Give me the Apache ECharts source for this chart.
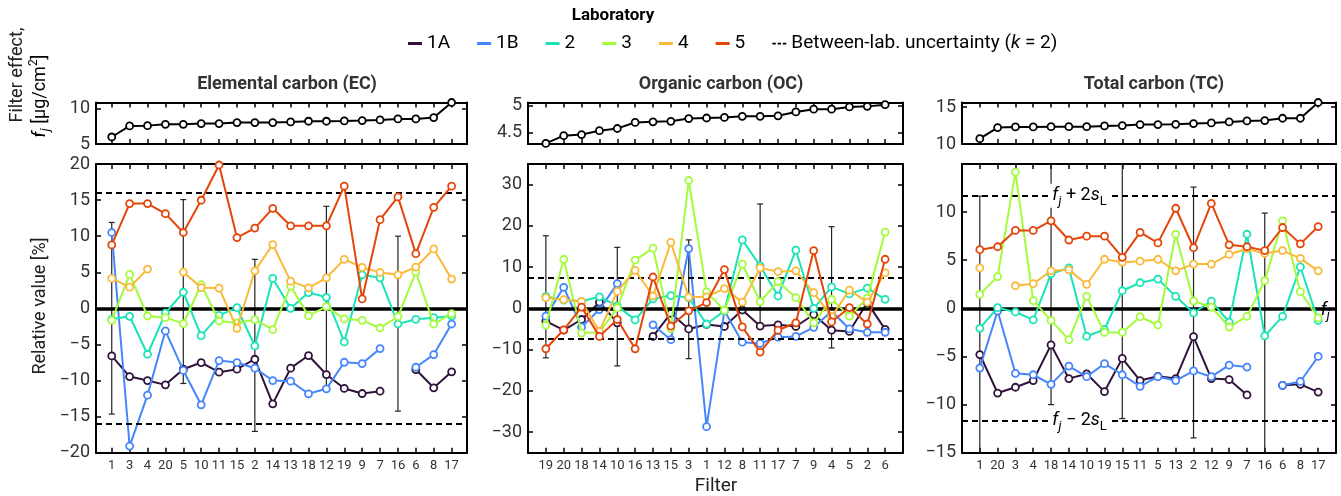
<!DOCTYPE html>
<html>
<head>
<meta charset="utf-8">
<script src="https://cdn.jsdelivr.net/npm/echarts@6/dist/echarts.min.js"></script>
<style>
  html, body { margin: 0; padding: 0; background: #fff; }
  #main { width: 1341px; height: 496px; }
</style>
</head>
<body>
<div id="main"></div>
<script>
// filter order (x axis) for each panel
var ecFilters = ['1', '3', '4', '20', '5', '10', '11', '15', '2', '14', '13', '18', '12', '19', '9', '7', '16', '6', '8', '17']
var ocFilters = ['19', '20', '18', '14', '10', '16', '13', '15', '3', '1', '12', '8', '11', '17', '7', '9', '4', '5', '2', '6']
var tcFilters = ['1', '20', '3', '4', '18', '14', '10', '19', '15', '11', '5', '13', '2', '12', '9', '7', '16', '6', '8', '17']

// filter effect f_j [ug/cm2]
var ecEffect = [5.99, 7.55, 7.59, 7.78, 7.78, 7.88, 7.88, 8.02, 8.02, 8.02, 8.11, 8.21, 8.21, 8.25, 8.30, 8.40, 8.54, 8.54, 8.73, 10.85]
var ocEffect = [4.31, 4.45, 4.47, 4.54, 4.58, 4.69, 4.70, 4.71, 4.76, 4.77, 4.78, 4.80, 4.80, 4.81, 4.88, 4.93, 4.93, 4.97, 4.98, 5.01]
var tcEffect = [10.73, 12.23, 12.32, 12.32, 12.36, 12.36, 12.36, 12.45, 12.5, 12.64, 12.64, 12.68, 12.77, 12.86, 13.0, 13.14, 13.18, 13.5, 13.5, 15.64]

// relative values [%] per laboratory
var labs = ['1A', '1B', '2', '3', '4', '5']
var labColors = ['#30123B', '#4686FB', '#1AE4B6', '#A2FC3C', '#FABA39', '#E4460A']

var ec1A = [-6.59, -9.45, -10.0, -10.6, -8.43, -7.51, -8.85, -8.43, -7.05, -13.23, -8.29, -6.54, -9.17, -11.1, -11.8, -11.47, null, -8.48, -11.01, -8.8]
var ec1B = [10.51, -19.08, -12.03, -3.13, -8.6, -13.36, -7.24, -7.51, -8.29, -10.0, -10.09, -11.84, -11.15, -7.47, -7.65, -5.58, null, -8.16, -6.41, -2.17]
var ec2 = [-1.52, -1.1, -6.36, -0.65, 2.23, -3.78, -0.97, 0.1, -5.21, 4.14, 0, 2.19, 1.53, -4.65, 4.65, 4.23, -2.17, -1.52, -1.29, -1.06]
var ec3 = [-1.66, 4.7, -1.06, -1.29, -2.12, 3.3, -1.75, -2.03, -1.57, -2.95, 3.07, -1.01, 0.23, -1.47, -1.66, -2.72, -1.15, 5.02, -2.17, -0.74]
var ec4 = [4.14, 2.93, 5.44, null, 5.02, 2.88, 2.79, -2.76, 5.2, 8.84, 3.77, 2.84, 4.23, 6.79, 5.67, 4.98, 4.65, 5.72, 8.23, 4.05]
var ec5 = [8.79, 14.51, 14.51, 13.12, 10.51, 14.98, 19.86, 9.81, 11.12, 13.86, 11.44, 11.44, 11.44, 16.93, 1.30, 12.28, 15.44, 7.58, 14.0, 16.93]

var oc1A = [-3.1, -5.3, -2.7, 1.5, -3.5, null, -6.8, -1.2, -5.0, -3.9, -4.4, -0.4, -4.3, -4.0, -4.4, -1.5, -5.3, -5.6, 1.4, -5.1]
var oc1B = [-1.9, 5.1, -4.5, -0.3, 6.0, null, -4.0, -7.6, 14.5, -28.7, -0.6, -8.2, -8.5, -7.0, -6.8, -4.6, -0.7, -5.0, -5.8, -5.8]
var oc2 = [2.9, 2.0, 1.7, 2.8, 0.6, -2.8, 2.3, 3.1, 2.6, -3.8, -0.6, 16.6, 10.3, 3.0, 14.1, 0, 5.2, 3.5, 4.9, 2.2]
var oc3 = [-4.1, 11.9, -6.0, -5.8, 0.1, 11.7, 14.6, -4.9, 31.0, 4.0, -0.5, 10.7, 1.6, 6.5, 2.6, -3.5, 2.2, -1.9, 2.5, 18.5]
var oc4 = [2.6, 2.1, 1.7, -5.6, 4.1, 9.2, 3.0, 16.0, 2.7, 2.8, 4.8, 1.5, 9.8, 8.9, 9.1, 3.8, -2.0, 4.4, 1.5, 8.6]
var oc5 = [-9.8, -5.2, 0.3, -6.8, -2.7, -9.8, 7.6, -4.3, -0.6, 1.4, 9.4, -4.5, -10.6, -5.3, -3.5, 14.0, -3.3, 0.2, -3.8, 11.9]

var tc1A = [-4.8, -8.8, -8.2, -7.5, -3.8, -7.3, -6.8, -8.65, -5.2, -7.5, -7.06, -7.3, -2.94, -7.3, -7.4, -9.0, null, -8.0, -7.9, -8.7]
var tc1B = [-6.2, -0.28, -6.75, -6.9, -7.9, -6.0, -7.1, -5.75, -6.9, -8.1, -7.1, -7.5, -6.5, -7.1, -5.9, -6.1, null, -8.0, -7.6, -5.0]
var tc2 = [-2.08, 0.07, -0.38, -1.2, 3.6, 4.2, -2.9, -2.2, 1.83, 2.66, 3.04, 1.25, -0.48, 0.76, -1.42, 7.7, -2.87, -0.83, 4.3, -1.25]
var tc3 = [1.45, 3.3, 14.15, 0.8, -1.25, -3.25, 1.25, -2.5, -2.5, -0.87, -1.73, 7.7, 0.76, 0.14, -1.94, -0.83, 2.87, 9.1, 1.73, -1.0]
var tc4 = [4.2, null, 2.35, 2.56, 3.9, 4.0, 2.5, 5.1, 4.8, 4.9, 5.1, 3.9, 4.6, 4.6, 5.6, 6.2, 5.7, 6.0, 5.2, 3.9]
var tc5 = [6.1, 6.4, 8.1, 8.1, 9.1, 7.1, 7.5, 7.5, 5.3, 7.9, 6.8, 10.4, 6.3, 10.9, 6.6, 6.4, 6.0, 8.4, 6.7, 8.5]

// between-lab uncertainty (k = 2), +/- around f_j
var ecLimit = 16
var ocLimit = 7.3
var tcLimit = 11.7

// error bars (lab 2) : filter, low, high
var ecErrFilters = ['1', '5', '2', '12', '16']
var ecErrLow = [-14.65, -10.41, -17.05, -11.1, -14.24]
var ecErrHigh = [11.9, 15.07, 6.79, 14.14, 10.0]
var ocErrFilters = ['19', '10', '3', '11', '4']
var ocErrLow = [-12.0, -13.95, -12.2, -4.7, -9.6]
var ocErrHigh = [17.6, 14.8, 16.6, 25.3, 19.8]
var tcErrFilters = ['1', '18', '15', '2', '16']
var tcErrLow = [-15.8, -10.0, -11.45, -13.46, -15.6]
var tcErrHigh = [11.66, 17.2, 15.1, 12.6, 9.9]

var dashName = 'Between-lab. uncertainty (k = 2)'
var FONT = 'Roboto'

var panels = [
  {
    filters: ecFilters, effect: ecEffect, effMin: 5, effMax: 10.85, effTicks: [5, 10],
    rel: [ec1A, ec1B, ec2, ec3, ec4, ec5], relMin: -20, relMax: 20,
    relLabels: [-20, -15, -10, -5, 0, 5, 10, 15, 20], relTicks: [-20, -15, -10, -5, 0, 5, 10, 15, 20],
    limit: ecLimit, errF: ecErrFilters, errLo: ecErrLow, errHi: ecErrHigh,
    left: 96, width: 371, xMin: 0.12, xMax: 20.86
  },
  {
    filters: ocFilters, effect: ocEffect, effMin: 4.3, effMax: 5.05, effTicks: [4.5, 5],
    rel: [oc1A, oc1B, oc2, oc3, oc4, oc5], relMin: -35, relMax: 35,
    relLabels: [-30, -20, -10, 0, 10, 20, 30], relTicks: [-30, -20, -10, 0, 10, 20, 30],
    limit: ocLimit, errF: ocErrFilters, errLo: ocErrLow, errHi: ocErrHigh,
    left: 528, width: 375, xMin: 0, xMax: 21
  },
  {
    filters: tcFilters, effect: tcEffect, effMin: 10, effMax: 15.64, effTicks: [10, 15],
    rel: [tc1A, tc1B, tc2, tc3, tc4, tc5], relMin: -15, relMax: 15,
    relLabels: [-15, -10, -5, 0, 5, 10], relTicks: [-15, -10, -5, 0, 5, 10, 15],
    limit: tcLimit, errF: tcErrFilters, errLo: tcErrLow, errHi: tcErrHigh,
    left: 962, width: 374, xMin: 0, xMax: 21
  }
]

var TOP_Y = 102.5, TOP_H = 41.5, MAIN_Y = 164, MAIN_H = 288.7
var positions = []
for (var i = 1; i <= 20; i++) positions.push(i)

function minus(v) {
  return String(v).replace('-', '\u2212')
}

function xPair(min, max, filters, showLabels) {
  var base = {
    type: 'value', min: min, max: max,
    axisLine: { show: true, onZero: false, lineStyle: { color: '#000', width: 2 } },
    axisTick: { show: true, inside: true, length: 5, customValues: positions, lineStyle: { color: '#000', width: 1.5 } },
    splitLine: { show: false }
  }
  var bottom = Object.assign({}, base, {
    position: 'bottom',
    axisLabel: {
      show: showLabels, customValues: positions, margin: 7,
      fontFamily: FONT, fontSize: 13, color: '#333',
      formatter: function (v) { return filters[Math.round(v) - 1] }
    }
  })
  var top = Object.assign({}, base, { position: 'top', axisLabel: { show: false } })
  return [bottom, top]
}

function yPair(min, max, labels, ticks) {
  var base = {
    type: 'value', min: min, max: max,
    axisLine: { show: true, onZero: false, lineStyle: { color: '#000', width: 2 } },
    axisTick: { show: true, inside: true, length: 5, customValues: ticks, lineStyle: { color: '#000', width: 1.5 } },
    splitLine: { show: false }
  }
  var left = Object.assign({}, base, {
    position: 'left',
    axisLabel: {
      show: true, customValues: labels, margin: 6,
      fontFamily: FONT, fontSize: 18, color: '#333',
      formatter: function (v) { return minus(v) }
    }
  })
  var right = Object.assign({}, base, { position: 'right', axisLabel: { show: false } })
  return [left, right]
}

function errorRender(yMin, yMax) {
  return function (params, api) {
    var x = api.value(0), lo = api.value(1), hi = api.value(2)
    var loC = Math.max(lo, yMin), hiC = Math.min(hi, yMax)
    var pT = api.coord([x, hiC]), pB = api.coord([x, loC])
    var st = { stroke: '#222', lineWidth: 1.2 }
    var kids = [{ type: 'line', shape: { x1: pT[0], y1: pT[1], x2: pB[0], y2: pB[1] }, style: st }]
    if (hi <= yMax) kids.push({ type: 'line', shape: { x1: pT[0] - 3, y1: pT[1], x2: pT[0] + 3, y2: pT[1] }, style: st })
    if (lo >= yMin) kids.push({ type: 'line', shape: { x1: pB[0] - 3, y1: pB[1], x2: pB[0] + 3, y2: pB[1] }, style: st })
    return { type: 'group', children: kids }
  }
}

var grid = [], xAxis = [], yAxis = [], series = []

panels.forEach(function (p, k) {
  grid[k] = { left: p.left, top: TOP_Y, width: p.width, height: TOP_H }
  grid[k + 3] = { left: p.left, top: MAIN_Y, width: p.width, height: MAIN_H }
})
// axes, ordered by grid index
for (var g = 0; g < 6; g++) {
  var p = panels[g % 3]
  var isTop = g < 3
  var xs = xPair(p.xMin, p.xMax, p.filters, !isTop)
  var ys = isTop ? yPair(p.effMin, p.effMax, p.effTicks, p.effTicks) : yPair(p.relMin, p.relMax, p.relLabels, p.relTicks)
  xs[0].gridIndex = g; xs[1].gridIndex = g
  ys[0].gridIndex = g; ys[1].gridIndex = g
  xAxis.push(xs[0], xs[1])
  yAxis.push(ys[0], ys[1])
}

function toXY(arr) {
  return arr.map(function (v, i) { return [i + 1, v === null ? '-' : v] })
}

panels.forEach(function (p, k) {
  // filter effect panel
  series.push({
    type: 'line', xAxisIndex: 2 * k, yAxisIndex: 2 * k, data: toXY(p.effect),
    symbol: 'circle', symbolSize: 7, showAllSymbol: true,
    lineStyle: { color: '#000', width: 2 },
    itemStyle: { color: '#fff', borderColor: '#000', borderWidth: 1.8 },
    z: 3, silent: true
  })
  var gi = k + 3
  // reference lines
  series.push({
    type: 'line', name: dashName, xAxisIndex: 2 * gi, yAxisIndex: 2 * gi, data: [],
    markLine: {
      symbol: 'none', silent: true, label: { show: false },
      lineStyle: { color: '#000', type: [6, 4], width: 1.8 },
      data: [
        { yAxis: 0, lineStyle: { type: 'solid', width: 3.5 } },
        { yAxis: p.limit },
        { yAxis: -p.limit }
      ]
    },
    z: 1
  })
  // error bars
  series.push({
    type: 'custom', xAxisIndex: 2 * gi, yAxisIndex: 2 * gi,
    data: p.errF.map(function (f, j) { return [p.filters.indexOf(f) + 1, p.errLo[j], p.errHi[j]] }),
    encode: { x: 0, y: [1, 2] },
    renderItem: errorRender(p.relMin, p.relMax),
    z: 2, silent: true
  })
  p.rel.forEach(function (vals, li) {
    series.push({
      type: 'line', name: labs[li], xAxisIndex: 2 * gi, yAxisIndex: 2 * gi, data: toXY(vals),
      symbol: 'circle', symbolSize: 7, showAllSymbol: true, connectNulls: false,
      lineStyle: { color: labColors[li], width: 2 },
      itemStyle: { color: '#fff', borderColor: labColors[li], borderWidth: 1.8 },
      z: 3 + li, silent: true
    })
  })
})

var legendData = labs.map(function (l, i) {
  return { name: l, icon: 'rect', itemStyle: { color: labColors[i], borderWidth: 0 } }
})
legendData.push({ name: dashName, icon: 'path://M0 0H4V2H0Z M6 0H10V2H6Z M12 0H16V2H12Z', itemStyle: { color: '#000', borderWidth: 0 } })

var chart = echarts.init(document.getElementById('main'))
chart.setOption({
  animation: false,
  backgroundColor: '#fff',
  grid: grid,
  xAxis: xAxis,
  yAxis: yAxis,
  series: series,
  legend: {
    left: 403, top: 29, itemWidth: 14, itemHeight: 3, itemGap: 27, selectedMode: false,
    data: legendData,
    textStyle: { fontFamily: FONT, fontSize: 19, color: '#000', rich: { k: { fontFamily: FONT, fontSize: 19, fontStyle: 'italic', color: '#000' } } },
    formatter: function (name) {
      return name === dashName ? 'Between-lab. uncertainty ({k|k} = 2)' : name
    }
  },
  title: [
    { text: 'Elemental carbon (EC)', left: 282, top: 70, textAlign: 'center', textStyle: { fontFamily: FONT, fontSize: 18, fontWeight: 'bold', color: '#333' } },
    { text: 'Organic carbon (OC)', left: 716, top: 70, textAlign: 'center', textStyle: { fontFamily: FONT, fontSize: 18, fontWeight: 'bold', color: '#333' } },
    { text: 'Total carbon (TC)', left: 1149, top: 70, textAlign: 'center', textStyle: { fontFamily: FONT, fontSize: 18, fontWeight: 'bold', color: '#333' } }
  ]
})

// text annotations placed through the TC axes
var rich = {
  it: { fontFamily: FONT, fontSize: 18, fontStyle: 'italic', color: '#000', lineHeight: 24 },
  sub: { fontFamily: FONT, fontSize: 13, fontStyle: 'italic', color: '#000', lineHeight: 24, verticalAlign: 'bottom' },
  subn: { fontFamily: FONT, fontSize: 13, color: '#000', lineHeight: 24, verticalAlign: 'bottom' },
  n: { fontFamily: FONT, fontSize: 18, color: '#000', lineHeight: 24 }
}
var tcIdx = { xAxisIndex: 10, yAxisIndex: 10 }
var pPlus = chart.convertToPixel(tcIdx, [6.6, tcLimit])
var pMinus = chart.convertToPixel(tcIdx, [6.6, -tcLimit])
var pZero = chart.convertToPixel(tcIdx, [20.4, 0])

chart.setOption({
  graphic: [
    { type: 'text', x: 613, y: 16, style: { text: 'Laboratory', font: 'bold 17px Roboto', fill: '#000', align: 'center', verticalAlign: 'middle' } },
    {
      type: 'text', x: pPlus[0], y: pPlus[1],
      style: { text: '{it|f}{sub|j}{n| + 2}{it|s}{subn|L}', rich: rich, align: 'center', verticalAlign: 'middle', backgroundColor: '#fff', padding: [0, 3] }, z: 20
    },
    {
      type: 'text', x: pMinus[0], y: pMinus[1],
      style: { text: '{it|f}{sub|j}{n| \u2212 2}{it|s}{subn|L}', rich: rich, align: 'center', verticalAlign: 'middle', backgroundColor: '#fff', padding: [0, 3] }, z: 20
    },
    {
      type: 'text', x: pZero[0], y: pZero[1] + 2,
      style: { text: '{it|f}{sub|j}', rich: rich, align: 'center', verticalAlign: 'middle' }, z: 20
    },
    {
      type: 'text', x: 17, y: 75, rotation: Math.PI / 2,
      style: { text: 'Filter effect,', font: '18px Roboto', fill: '#222', align: 'center', verticalAlign: 'middle' }
    },
    {
      type: 'text', x: 40, y: 96, rotation: Math.PI / 2,
      style: {
        text: '{it|f}{sub|j}{n| [\u03bcg/cm}{sup|2}{n|]}', align: 'center', verticalAlign: 'middle',
        rich: {
          it: { fontFamily: FONT, fontSize: 18, fontStyle: 'italic', color: '#222', lineHeight: 24 },
          sub: { fontFamily: FONT, fontSize: 13, fontStyle: 'italic', color: '#222', lineHeight: 24, verticalAlign: 'bottom' },
          sup: { fontFamily: FONT, fontSize: 12, color: '#222', lineHeight: 24, verticalAlign: 'top' },
          n: { fontFamily: FONT, fontSize: 18, color: '#222', lineHeight: 24 }
        }
      }
    },
    {
      type: 'text', x: 40, y: 306, rotation: Math.PI / 2,
      style: { text: 'Relative value [%]', font: '18px Roboto', fill: '#222', align: 'center', verticalAlign: 'middle' }
    },
    {
      type: 'text', x: 716, y: 486,
      style: { text: 'Filter', font: '19px Roboto', fill: '#222', align: 'center', verticalAlign: 'middle' }
    }
  ]
})
</script>
</body>
</html>
